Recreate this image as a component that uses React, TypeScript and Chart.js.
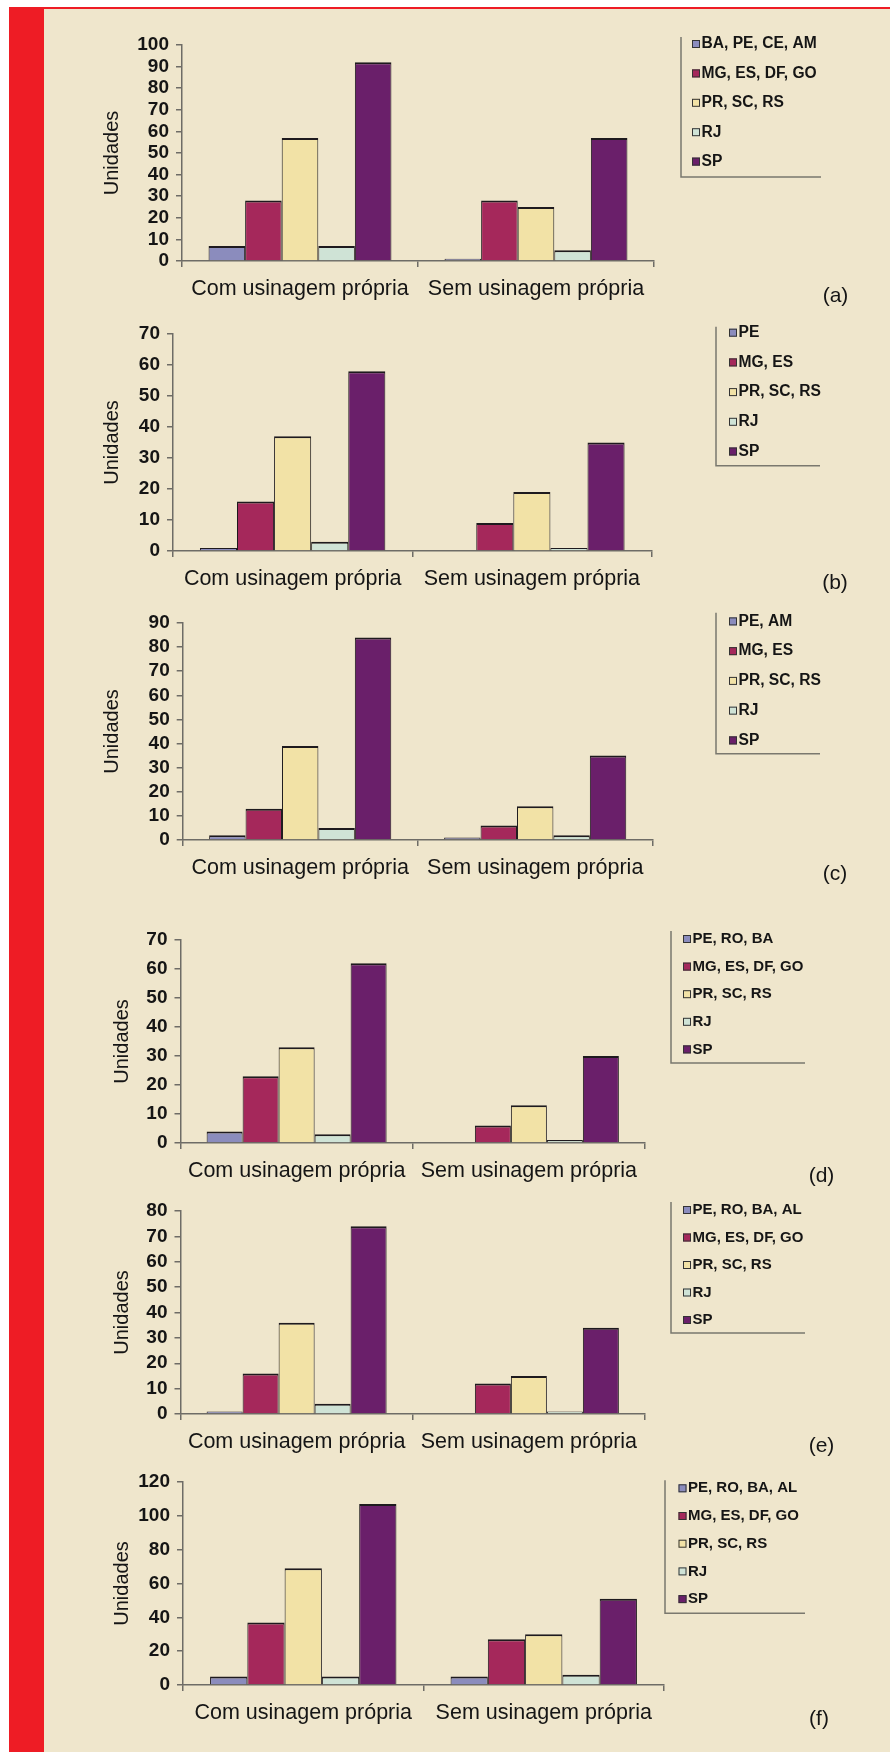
import React, { useEffect, useRef } from "react";
import { Chart, registerables } from "chart.js";

Chart.register(...registerables);
Chart.defaults.font.family = "'Liberation Sans', Arial, sans-serif";

// ---------- data ----------
const categories = ["Com usinagem própria", "Sem usinagem própria"];
const yTitle = "Unidades";

const legendA = ["BA, PE, CE, AM", "MG, ES, DF, GO", "PR, SC, RS", "RJ", "SP"];
const legendB = ["PE", "MG, ES", "PR, SC, RS", "RJ", "SP"];
const legendC = ["PE, AM", "MG, ES", "PR, SC, RS", "RJ", "SP"];
const legendD = ["PE, RO, BA", "MG, ES, DF, GO", "PR, SC, RS", "RJ", "SP"];
const legendE = ["PE, RO, BA, AL", "MG, ES, DF, GO", "PR, SC, RS", "RJ", "SP"];
const legendF = ["PE, RO, BA, AL", "MG, ES, DF, GO", "PR, SC, RS", "RJ", "SP"];

// each row = one series: [Com usinagem própria, Sem usinagem própria]
const valuesA = [[7, 1], [28, 28], [57, 25], [7, 5], [92, 57]];
const valuesB = [[1, 0], [16, 9], [37, 19], [3, 1], [58, 35]];
const valuesC = [[2, 1], [13, 6], [39, 14], [5, 2], [84, 35]];
const valuesD = [[4, 0], [23, 6], [33, 13], [3, 1], [62, 30]];
const valuesE = [[1, 0], [16, 12], [36, 15], [4, 1], [74, 34]];
const valuesF = [[5, 5], [37, 27], [69, 30], [5, 6], [107, 51]];

const yMaxA = 100, yStepA = 10;
const yMaxB = 70, yStepB = 10;
const yMaxC = 90, yStepC = 10;
const yMaxD = 70, yStepD = 10;
const yMaxE = 80, yStepE = 10;
const yMaxF = 120, yStepF = 20;

const panelTags = ["(a)", "(b)", "(c)", "(d)", "(e)", "(f)"];

// ---------- styles ----------
const seriesColors = ["#8b8cbd", "#a5285b", "#f2e2a6", "#cfe3d6", "#6a1f6a"];
const barBorder = "#1e1a1e";
const axisColor = "#6e6c66";
const textColor = "#151515";
const beige = "#efe6cc";
const red = "#ee1c25";
const FONT = "'Liberation Sans', Arial, sans-serif";

type Geo = {
  axisL: number; axisR: number; yTop: number; y0: number; titleX: number;
  legX: number; legTop: number; legBottom: number; legRight: number;
  boxX: number; itemY0: number; itemGap: number; legFont: number;
  tagX: number; tagBase: number;
};

const geoA: Geo = { axisL: 182, axisR: 654, yTop: 45, y0: 261, titleX: 112, legX: 681, legTop: 37, legBottom: 177, legRight: 821, boxX: 692, itemY0: 44, itemGap: 29.4, legFont: 15.6, tagX: 835.5, tagBase: 301.5 };
const geoB: Geo = { axisL: 173, axisR: 651.5, yTop: 334.3, y0: 551, titleX: 112, legX: 716, legTop: 327, legBottom: 466, legRight: 820, boxX: 729, itemY0: 333, itemGap: 29.7, legFont: 15.6, tagX: 835, tagBase: 589.5 };
const geoC: Geo = { axisL: 182.7, axisR: 652.7, yTop: 623.3, y0: 840.3, titleX: 112, legX: 716, legTop: 613, legBottom: 754, legRight: 820, boxX: 729, itemY0: 621.7, itemGap: 29.75, legFont: 15.6, tagX: 835, tagBase: 880.5 };
const geoD: Geo = { axisL: 180.5, axisR: 645, yTop: 940, y0: 1143.3, titleX: 122, legX: 671, legTop: 931, legBottom: 1063, legRight: 805, boxX: 683, itemY0: 939, itemGap: 27.6, legFont: 15, tagX: 821.5, tagBase: 1182 };
const geoE: Geo = { axisL: 180.5, axisR: 645, yTop: 1211, y0: 1414.3, titleX: 122, legX: 671, legTop: 1202, legBottom: 1333, legRight: 805, boxX: 683, itemY0: 1210, itemGap: 27.5, legFont: 15, tagX: 821.5, tagBase: 1452 };
const geoF: Geo = { axisL: 183, axisR: 664, yTop: 1481.7, y0: 1685, titleX: 122, legX: 665, legTop: 1480, legBottom: 1613, legRight: 805, boxX: 678.5, itemY0: 1488, itemGap: 27.7, legFont: 15, tagX: 819, tagBase: 1724.5 };

const PAD_TOP = 20;
const X_AXIS_H = 45;
const PAD_BOTTOM = 30;

const decoPlugin = {
  id: "panelDeco",
  afterDraw(chart: any, _args: any, opts: any) {
    const ctx = chart.ctx as CanvasRenderingContext2D;
    const off = opts.offsetY;
    ctx.save();
    ctx.strokeStyle = "#7a786e";
    ctx.lineWidth = 1.5;
    ctx.beginPath();
    ctx.moveTo(opts.legX, opts.legTop - off);
    ctx.lineTo(opts.legX, opts.legBottom - off);
    ctx.lineTo(opts.legRight, opts.legBottom - off);
    ctx.stroke();
    chart.data.datasets.forEach((ds: any, i: number) => {
      const y = opts.itemY0 + i * opts.itemGap - off;
      ctx.fillStyle = ds.backgroundColor;
      ctx.fillRect(opts.boxX, y - 4, 8, 8);
      ctx.strokeStyle = "#333";
      ctx.lineWidth = 1;
      ctx.strokeRect(opts.boxX + 0.5, y - 3.5, 7, 7);
      ctx.fillStyle = textColor;
      ctx.font = `bold ${opts.legFont}px ${FONT}`;
      ctx.textAlign = "left";
      ctx.textBaseline = "middle";
      ctx.fillText(ds.label, opts.boxX + 9.5, y);
    });
    ctx.font = `21px ${FONT}`;
    ctx.fillStyle = textColor;
    ctx.textAlign = "center";
    ctx.textBaseline = "alphabetic";
    ctx.fillText(opts.tag, opts.tagX, opts.tagBase - off);
    ctx.restore();
  },
};

function Panel({ labels, values, max, step, geo, tag }: { labels: string[]; values: number[][]; max: number; step: number; geo: Geo; tag: string }) {
  const ref = useRef<HTMLCanvasElement>(null);
  const top = geo.yTop - PAD_TOP;
  const height = Math.round(geo.y0 - geo.yTop + PAD_TOP + X_AXIS_H + PAD_BOTTOM);
  useEffect(() => {
    const padLeft = geo.titleX - 12;
    const chart = new Chart(ref.current as HTMLCanvasElement, {
      type: "bar",
      data: {
        labels: categories,
        datasets: labels.map((lab, i) => ({
          label: lab,
          data: values[i],
          backgroundColor: seriesColors[i],
          borderColor: barBorder,
          borderWidth: { top: 2, left: 1, right: 1, bottom: 0 },
          borderSkipped: false,
          categoryPercentage: 0.775,
          barPercentage: 1,
        })),
      },
      options: {
        responsive: false,
        maintainAspectRatio: false,
        animation: false,
        devicePixelRatio: 1,
        layout: { padding: { left: padLeft, right: 890 - geo.axisR, top: PAD_TOP, bottom: PAD_BOTTOM } },
        plugins: {
          legend: { display: false },
          tooltip: { enabled: false },
          panelDeco: { ...geo, tag, offsetY: top },
        } as any,
        scales: {
          x: {
            offset: true,
            grid: { offset: true, drawOnChartArea: false, drawTicks: true, tickLength: 6, color: axisColor, lineWidth: 1.5 },
            border: { display: true, color: axisColor, width: 1.5 },
            ticks: { font: { size: 21.5 }, color: textColor, padding: 9, maxRotation: 0, autoSkip: false },
            afterFit: (s: any) => { s.height = X_AXIS_H; },
          },
          y: {
            min: 0,
            max,
            ticks: { stepSize: step, autoSkip: false, font: { size: 19, weight: "bold" }, color: textColor, padding: 7 },
            grid: { drawOnChartArea: false, drawTicks: true, tickLength: 6, color: axisColor, lineWidth: 1.5 },
            border: { display: true, color: axisColor, width: 1.5 },
            title: { display: true, text: yTitle, font: { size: 20 }, color: textColor, padding: 0 },
            afterFit: (s: any) => { s.width = geo.axisL - padLeft; },
          },
        } as any,
      },
      plugins: [decoPlugin as any],
    });
    return () => chart.destroy();
  }, []);
  return (
    <canvas
      ref={ref}
      width={890}
      height={height}
      style={{ position: "absolute", left: 0, top, width: 890, height }}
    />
  );
}

export default function App() {
  return (
    <div style={{ position: "absolute", left: 0, top: 0, width: 890, height: 1752, overflow: "hidden", background: "#ffffff" }}>
      <div style={{ position: "absolute", left: 9, top: 7, right: 0, bottom: 0, background: beige, borderTop: `2px solid ${red}` }} />
      <div style={{ position: "absolute", left: 9, top: 7, width: 35, bottom: 0, background: red }} />
      <Panel labels={legendA} values={valuesA} max={yMaxA} step={yStepA} geo={geoA} tag={panelTags[0]} />
      <Panel labels={legendB} values={valuesB} max={yMaxB} step={yStepB} geo={geoB} tag={panelTags[1]} />
      <Panel labels={legendC} values={valuesC} max={yMaxC} step={yStepC} geo={geoC} tag={panelTags[2]} />
      <Panel labels={legendD} values={valuesD} max={yMaxD} step={yStepD} geo={geoD} tag={panelTags[3]} />
      <Panel labels={legendE} values={valuesE} max={yMaxE} step={yStepE} geo={geoE} tag={panelTags[4]} />
      <Panel labels={legendF} values={valuesF} max={yMaxF} step={yStepF} geo={geoF} tag={panelTags[5]} />
    </div>
  );
}
